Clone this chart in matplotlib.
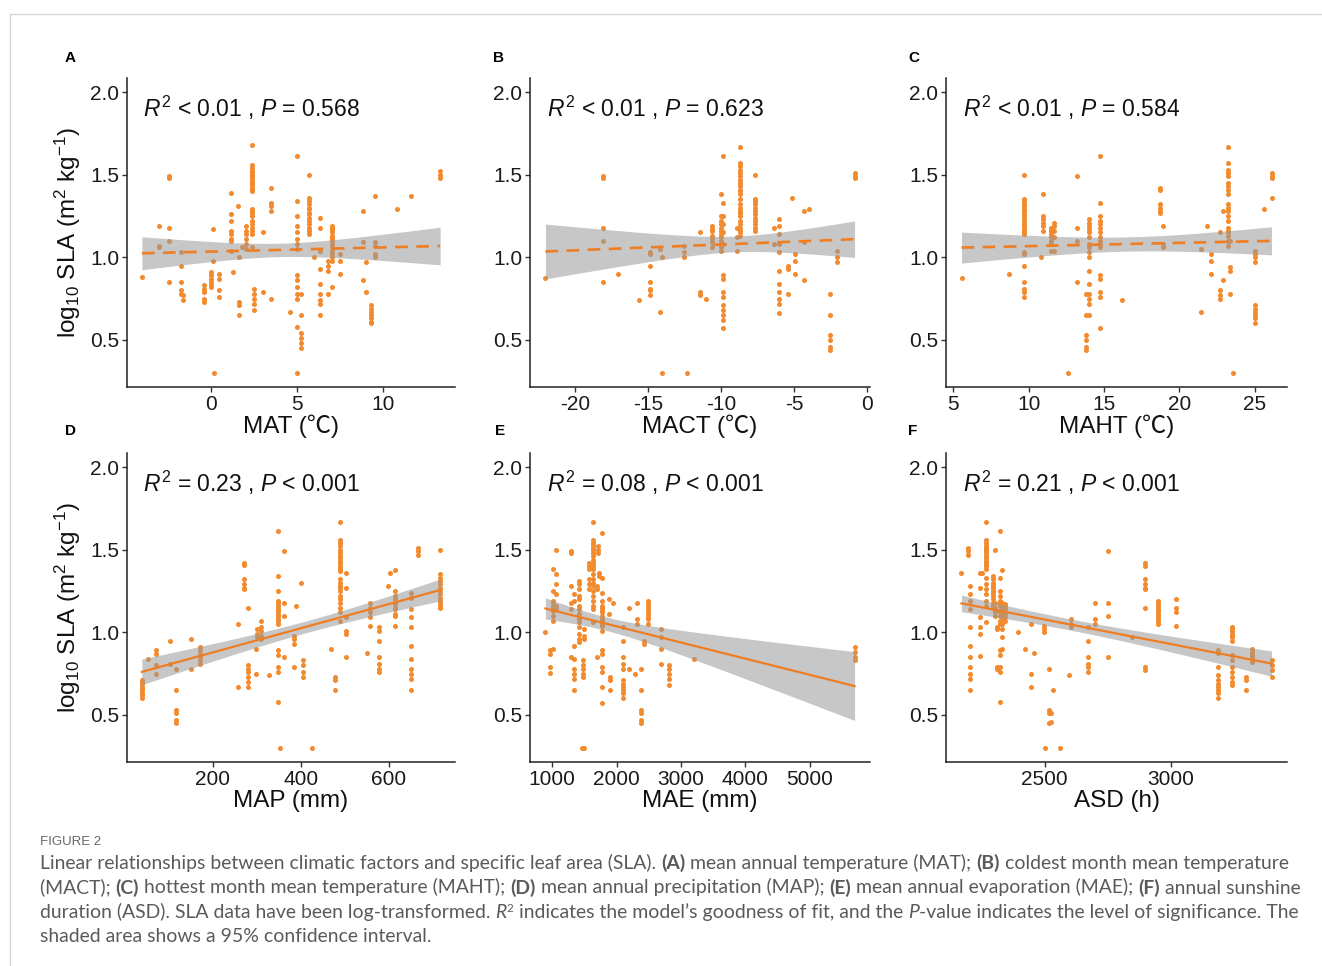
import numpy as np
import matplotlib
matplotlib.use("Agg")
import matplotlib.pyplot as plt
from matplotlib.lines import Line2D
from matplotlib.transforms import IdentityTransform

plt.rcParams['font.family'] = ['Liberation Sans', 'Noto Sans CJK SC', 'DejaVu Sans']
plt.rcParams['mathtext.fontset'] = 'custom'
plt.rcParams['mathtext.rm'] = 'Liberation Sans'
plt.rcParams['mathtext.it'] = 'Liberation Sans:italic'
plt.rcParams['mathtext.bf'] = 'Liberation Sans:bold'
plt.rcParams['axes.unicode_minus'] = False

# columns of points: (x, [log10 SLA values]); dense bars hold overlapping points
MAT_COLS = [
    (-4.0, [0.88]), (-3.03, [1.19, 1.07, 1.06]), (-2.41, [1.49, 1.48, 1.18, 1.10, 0.85]),
    (-1.73, [1.03, 0.95, 0.85, 0.80, 0.78]), (-1.63, [0.77, 0.74]),
    (-0.41, [0.83, 0.81, 0.79, 0.75, 0.73]), (0.1, [1.17, 0.98]),
    (0.0, [0.91, 0.89, 0.87, 0.85, 0.83, 0.82]), (0.16, [0.30]), (0.49, [0.90, 0.87, 0.80, 0.76]),
    (1.18, [1.39, 1.26, 1.22, 1.16, 1.14, 1.11, 1.10, 1.04]), (1.30, [0.91]), (1.59, [1.31]),
    (1.65, [0.73, 0.71, 0.65, 1.00]), (1.81, [1.06]), (2.02, [1.19, 1.16, 1.14, 1.11, 1.08, 1.05]),
    (2.39, [1.68, 1.56, 1.54, 1.52, 1.51, 1.50, 1.49, 1.48, 1.46, 1.45, 1.44,
            1.42, 1.41, 1.40, 1.29, 1.28, 1.27, 1.25, 1.22, 1.20, 1.18, 1.16, 1.14, 1.06]),
    (2.49, [0.81, 0.78, 0.75, 0.72, 0.68]), (3.01, [1.15, 0.79]), (3.48, [1.42, 1.33, 1.31, 1.28, 0.75]),
    (4.58, [0.67]),
    (4.97, [1.61, 1.34, 1.25, 1.19, 1.15, 1.11, 1.08, 1.05, 0.89, 0.86, 0.82, 0.78, 0.75, 0.58, 0.30]),
    (5.2, [0.78, 0.65, 0.54, 0.51, 0.48, 0.45]),
    (5.69, [1.50, 1.36, 1.34, 1.32, 1.30, 1.29, 1.27, 1.26, 1.24, 1.22, 1.20, 1.18, 1.16, 1.14]),
    (5.98, [1.00]), (6.31, [1.24, 1.18, 1.04, 0.93, 0.84, 0.78, 0.74, 0.72, 0.65]),
    (6.8, [0.98, 0.95, 0.92, 0.78]),
    (6.99, [1.19, 1.18, 1.17, 1.16, 1.15, 1.13, 1.12, 1.11, 1.10, 1.08, 1.06, 1.04, 1.02, 1.00, 0.98, 0.82]),
    (7.5, [1.02, 0.98, 0.90]), (8.8, [1.28, 1.09, 0.86]), (9.0, [0.97, 0.79]),
    (9.28, [0.71, 0.69, 0.67, 0.65, 0.63, 0.61, 0.60]), (9.5, [1.37, 1.09, 1.07, 1.02, 1.00]),
    (10.8, [1.29]), (11.6, [1.37]), (13.28, [1.52, 1.50, 1.48]),
]
MACT_COLS = [
    (-22.03, [0.875]), (-18.06, [1.49, 1.48, 1.18, 1.10, 0.85]), (-17.03, [0.90]), (-15.63, [0.74]),
    (-14.86, [1.03, 1.02, 0.95, 0.85, 0.81, 0.80, 0.77]), (-14.15, [1.05, 0.67]), (-14.03, [1.00, 0.30]),
    (-12.55, [1.07, 1.03, 1.00]), (-12.34, [0.30]), (-11.43, [1.15, 0.79, 0.77]), (-11.04, [0.75]),
    (-10.63, [1.19, 1.17, 1.16, 1.13, 1.11, 1.09, 1.06]),
    (-10.0, [1.38, 1.25, 1.22, 1.20, 1.18, 1.16, 1.14, 1.12, 1.10, 1.08, 1.06, 1.04]),
    (-9.83, [1.61, 1.33, 1.25, 1.20, 1.15, 1.08, 0.89, 0.87, 0.79, 0.76, 0.71, 0.68, 0.65, 0.62, 0.575]),
    (-8.91, [1.18, 1.12, 1.04]),
    (-8.73, [1.67, 1.57, 1.55, 1.53, 1.51, 1.49, 1.47, 1.45, 1.43, 1.41, 1.40, 1.38, 1.35, 1.32, 1.30,
             1.28, 1.27, 1.25, 1.22, 1.20, 1.18, 1.16, 1.15, 1.13]),
    (-7.66, [1.50, 1.35, 1.34, 1.32, 1.30, 1.28, 1.26, 1.24, 1.22, 1.20, 1.18, 1.16]), (-6.4, [1.18, 1.08]),
    (-6.03, [1.23, 1.19, 1.14, 1.08, 1.03, 0.92, 0.84, 0.79, 0.75, 0.72, 0.66]),
    (-5.42, [0.95, 0.93, 0.78]), (-5.14, [1.36]), (-4.91, [1.02, 0.98, 0.90]),
    (-4.34, [1.28, 1.09, 0.86]), (-4.0, [1.29]), (-2.51, [0.78, 0.65, 0.53, 0.50, 0.46, 0.44]),
    (-2.06, [1.04, 1.00, 0.97]), (-0.85, [1.51, 1.49, 1.48]),
]
MAHT_COLS = [
    (5.55, [0.875]), (8.67, [0.90]),
    (9.69, [1.50, 1.35, 1.34, 1.32, 1.31, 1.29, 1.28, 1.26, 1.25, 1.23, 1.22, 1.20, 1.19, 1.17, 1.16,
            1.15, 1.14, 1.03, 1.02, 0.95, 0.85, 0.81, 0.79, 0.76]),
    (10.8, [1.00]), (10.97, [1.38, 1.25, 1.23, 1.21, 1.19, 1.16]),
    (11.5, [1.18, 1.17, 1.16, 1.14, 1.13, 1.12, 1.10, 1.08, 1.04]),
    (11.68, [1.21, 1.19, 1.16, 1.12, 1.04]), (12.61, [0.30]), (13.19, [1.49, 1.18, 1.10, 0.85]),
    (13.78, [0.78, 0.65, 0.53, 0.50, 0.46, 0.44]),
    (14.0, [1.23, 1.21, 1.19, 1.17, 1.15, 1.12, 1.08, 1.06, 1.03, 1.00, 0.92, 0.84, 0.78, 0.75, 0.72, 0.65]),
    (14.71, [1.61, 1.33, 1.25, 1.22, 1.20, 1.18, 1.15, 1.12, 1.10, 1.08, 1.06, 0.89, 0.87, 0.79, 0.76, 0.575]),
    (16.2, [0.74]), (18.72, [1.42, 1.41, 1.32, 1.30, 1.28, 1.27]), (18.9, [1.19, 1.08, 1.06]),
    (21.4, [1.05, 0.67]), (21.8, [1.19]), (22.08, [1.02, 0.98, 0.90]), (22.7, [1.15, 0.80, 0.77, 0.75]),
    (22.9, [1.28, 0.86]),
    (23.19, [1.67, 1.57, 1.53, 1.51, 1.49, 1.45, 1.43, 1.41, 1.38, 1.32, 1.30,
             1.28, 1.25, 1.22, 1.18, 1.16, 1.15, 1.13, 1.10, 1.07]),
    (23.36, [1.10, 0.94, 0.92, 0.78]), (23.52, [0.30]),
    (25.0, [1.04, 1.02, 1.00, 0.97, 0.71, 0.69, 0.67, 0.65, 0.63, 0.60]),
    (25.58, [1.29]), (26.1, [1.51, 1.49, 1.48, 1.36]),
]
MAP_COLS = [
    (38.5, [0.71, 0.70, 0.69, 0.67, 0.66, 0.65, 0.63, 0.62, 0.60]), (52, [0.84]), (70, [0.89, 0.87, 0.80, 0.75]),
    (102, [0.95, 0.81]), (115, [0.78, 0.65, 0.53, 0.51, 0.47, 0.45]), (151, [0.96, 0.78]),
    (170, [0.91, 0.89, 0.87, 0.85, 0.83, 0.81]), (256, [1.05, 0.67]),
    (271, [1.42, 1.41, 1.32, 1.29, 1.27, 1.26]), (280, [1.15, 0.80, 0.78, 0.76, 0.73, 0.70, 0.67]),
    (298, [0.90, 0.75]), (301, [1.02, 0.99, 0.97]), (309, [1.07, 1.03, 1.01, 0.98, 0.96]), (328, [0.74]),
    (349, [1.61, 1.34, 1.25, 1.19, 1.18, 1.16, 1.14, 1.13, 1.11, 1.10, 1.08, 1.07, 1.05, 0.89, 0.86,
           0.79, 0.76, 0.58]),
    (353, [0.30]), (361, [1.18, 1.10, 0.85]), (362, [1.49]), (385, [0.98, 0.96, 0.93, 0.79]),
    (389, [1.16]), (400, [1.30]), (404, [0.83, 0.80, 0.76, 0.73]), (425, [0.30]), (469, [0.90]),
    (478, [0.73, 0.71, 0.65]),
    (489.5, [1.67, 1.56, 1.54, 1.52, 1.50, 1.48, 1.46, 1.45, 1.43, 1.42, 1.40, 1.38, 1.37, 1.32, 1.30,
             1.28, 1.27, 1.25, 1.22, 1.20, 1.18, 1.15, 1.12, 1.07]),
    (503, [1.36, 1.27, 1.09, 1.01, 0.99, 0.85]), (550, [0.875]), (557, [1.18, 1.15, 1.12, 1.09, 1.04]),
    (578, [1.03, 1.01, 0.95, 0.85, 0.81, 0.78, 0.76]), (599, [1.28]), (602, [1.36]),
    (614, [1.375, 1.25, 1.22, 1.20, 1.18, 1.17, 1.15, 1.14, 1.11, 1.10, 1.04]),
    (650, [1.24, 1.21, 1.14, 1.09, 1.03, 0.92, 0.84, 0.78, 0.75, 0.72, 0.65]),
    (665.5, [1.51, 1.49, 1.47]),
    (716.6, [1.50, 1.35, 1.33, 1.31, 1.29, 1.27, 1.25, 1.23, 1.21, 1.19, 1.18, 1.16, 1.15]),
]
MAE_COLS = [
    (896, [1.00]), (969, [0.89, 0.87, 0.79, 0.755]),
    (1021, [1.38, 1.25, 1.19, 1.18, 1.16, 1.14, 1.13, 1.10, 1.07, 0.90]),
    (1062, [1.50, 1.35, 1.29, 1.23, 1.16, 1.14]), (1290, [1.49, 1.48, 1.28, 1.18, 1.14, 0.85]),
    (1332, [1.23, 1.19, 0.92, 0.84, 0.78, 0.75, 0.72, 0.65]),
    (1425, [1.31, 1.29, 1.26, 1.22, 1.20, 1.16, 1.14, 1.11, 1.08, 1.06, 1.03, 0.99, 0.96, 0.94]),
    (1461, [0.30]), (1497, [0.30, 1.02, 0.98, 0.96]), (1487, [0.83, 0.80, 0.78, 0.75, 0.73]),
    (1565, [1.42, 1.40, 1.38, 1.32, 1.29, 1.26]),
    (1632, [1.67, 1.56, 1.54, 1.53, 1.51, 1.50, 1.48, 1.46, 1.44, 1.42, 1.40, 1.38, 1.35, 1.32, 1.30,
            1.28, 1.25, 1.22, 1.19, 1.16, 1.14, 1.06]),
    (1694, [1.28, 1.26, 0.85]), (1710, [1.52, 1.50, 1.48]), (1735, [1.36, 1.34]),
    (1782, [1.60, 1.33, 1.24, 1.19, 1.16, 1.15, 1.13, 1.12, 1.10, 1.08, 1.07, 1.05, 1.04, 1.01, 0.89,
            0.87, 0.79, 0.76, 0.67, 0.57]),
    (1881, [1.20, 1.11]), (1900, [0.73, 0.71, 0.65]), (1943, [1.18]),
    (2098, [1.03, 0.95, 0.85, 0.81, 0.78, 0.71, 0.69, 0.67, 0.65, 0.63, 0.60]), (2192, [1.15, 0.78]),
    (2295, [0.745]), (2316, [1.18, 1.08, 1.05]), (2383, [0.78, 0.65, 0.53, 0.51, 0.47, 0.45]),
    (2420, [0.95, 0.93]), (2497, [1.19, 1.17, 1.16, 1.14, 1.12, 1.11, 1.09, 1.08, 1.05]),
    (2689, [1.02, 0.97, 0.90, 0.81]),
    (2819, [0.80, 0.78, 0.75, 0.72, 0.68]), (3197, [0.84]), (5699, [0.91, 0.88, 0.85, 0.83]),
]
ASD_COLS = [
    (2170, [1.36]), (2197, [1.51, 1.49, 1.47]),
    (2202, [1.28, 1.23, 1.19, 1.14, 1.03, 0.92, 0.85, 0.79, 0.75, 0.72, 0.65]),
    (2243, [1.36, 1.27, 1.09, 1.03, 0.99, 0.855]), (2252, [1.36]),
    (2269, [1.67, 1.56, 1.54, 1.52, 1.51, 1.50, 1.49, 1.48, 1.46, 1.45, 1.43, 1.42, 1.41, 1.40, 1.38,
            1.33, 1.29, 1.26, 1.23, 1.19, 1.16, 1.06]),
    (2296, [1.34, 1.32, 1.30, 1.29, 1.28, 1.27, 1.25, 1.24, 1.22, 1.20, 1.18, 1.16, 1.15]),
    (2302, [1.50, 1.18, 1.15, 1.12, 1.10]),
    (2309, [1.03, 1.02, 0.79, 0.78]),
    (2322, [1.61, 1.33, 1.25, 1.22, 1.19, 1.18, 1.16, 1.13, 1.12, 1.10, 1.07, 1.05, 0.89, 0.86, 0.79,
            0.76, 0.58]),
    (2329, [1.375]), (2331, [1.18, 1.17, 1.15, 1.13, 1.11, 1.10, 1.08, 1.05, 1.02, 0.97, 0.90]),
    (2344, [1.17, 1.16, 1.14, 1.12, 1.11, 1.09, 1.07]),
    (2393, [1.00]), (2421, [0.90]), (2447, [1.05, 0.75, 0.67]), (2456, [0.875]), (2496, [1.04, 1.02, 1.00]),
    (2500, [0.30]), (2516, [0.78, 0.53, 0.51, 0.45]), (2525, [0.46, 0.51]), (2532, [0.65]), (2562, [0.30]),
    (2596, [0.74]), (2606, [1.08, 1.05, 1.03]), (2670, [1.03, 0.95, 0.85, 0.81, 0.79, 0.76]),
    (2699, [1.18, 1.08, 1.05]), (2749, [1.49, 1.18, 1.10, 0.85]), (2847, [0.97]),
    (2898, [1.42, 1.40, 1.32, 1.29, 1.27, 1.26, 1.15, 0.79, 0.77]),
    (2948, [1.19, 1.18, 1.16, 1.14, 1.13, 1.11, 1.10, 1.08, 1.07, 1.05]), (3020, [1.20, 1.15, 1.12, 1.04]),
    (3185, [0.89, 0.875, 0.79, 0.74, 0.71, 0.69, 0.67, 0.65, 0.63, 0.60]),
    (3244, [1.03, 1.02, 1.01, 0.99, 0.98, 0.97, 0.95, 0.86, 0.83, 0.79, 0.76, 0.73, 0.70, 0.68]),
    (3297, [0.73, 0.71, 0.65]), (3320, [0.90, 0.88, 0.87, 0.86, 0.85, 0.84, 0.82]),
    (3399, [0.83, 0.80, 0.77, 0.73]),
]

PANEL_COLS = [MAT_COLS, MACT_COLS, MAHT_COLS, MAP_COLS, MAE_COLS, ASD_COLS]
LETTERS = ['A', 'B', 'C', 'D', 'E', 'F']
XLABELS = ['MAT (℃)', 'MACT (℃)', 'MAHT (℃)', 'MAP (mm)', 'MAE (mm)', 'ASD (h)']
XTICKS = [[0, 5, 10], [-20, -15, -10, -5, 0], [5, 10, 15, 20, 25],
          [200, 400, 600], [1000, 2000, 3000, 4000, 5000], [2500, 3000]]
STATS = [r'$\mathit{R}^{2}$ < 0.01 , $\mathit{P}$ = 0.568',
         r'$\mathit{R}^{2}$ < 0.01 , $\mathit{P}$ = 0.623',
         r'$\mathit{R}^{2}$ < 0.01 , $\mathit{P}$ = 0.584',
         r'$\mathit{R}^{2}$ = 0.23 , $\mathit{P}$ < 0.001',
         r'$\mathit{R}^{2}$ = 0.08 , $\mathit{P}$ < 0.001',
         r'$\mathit{R}^{2}$ = 0.21 , $\mathit{P}$ < 0.001']
SIGNIFICANT = [False, False, False, True, True, True]

PT = '#f28a2e'
LN = '#ef7d22'
W, H = 1322, 966

fig = plt.figure(figsize=(W / 100, H / 100), dpi=100)

# panel boxes in pixels: left, right, top, bottom
cols_px = [(127, 455), (530, 870), (946, 1287)]
rows_px = [(78, 387), (453, 762)]
letter_px = [(65, 62), (493, 62), (908, 62), (65, 435), (495, 435), (908, 435)]

for i, cols in enumerate(PANEL_COLS):
    x = np.concatenate([[cx] * len(ys) for cx, ys in cols]).astype(float)
    y = np.concatenate([ys for cx, ys in cols]).astype(float)
    l, r = cols_px[i % 3]
    t, b = rows_px[i // 3]
    ax = fig.add_axes([l / W, 1 - b / H, (r - l) / W, (b - t) / H])

    ax.scatter(x, y, s=13, color=PT, linewidths=0, zorder=2)

    # ordinary least squares with 95% confidence band
    slope, icpt = np.polyfit(x, y, 1)
    n = len(x)
    resid = y - (icpt + slope * x)
    s = np.sqrt(np.sum(resid ** 2) / (n - 2))
    xs = np.linspace(x.min(), x.max(), 200)
    fit = icpt + slope * xs
    se = s * np.sqrt(1 / n + (xs - x.mean()) ** 2 / np.sum((x - x.mean()) ** 2))
    ax.fill_between(xs, fit - 1.97 * se, fit + 1.97 * se, color='#999999', alpha=0.55,
                    linewidth=0, zorder=3)
    if SIGNIFICANT[i]:
        ax.plot(xs, fit, color=LN, lw=1.6, zorder=4)
    else:
        ax.plot(xs, fit, color=LN, lw=1.9, dashes=(4.8, 3.2), zorder=4)

    ax.set_ylim(0.215, 2.085)
    ax.set_yticks([0.5, 1.0, 1.5, 2.0])
    ax.set_yticklabels(['0.5', '1.0', '1.5', '2.0'])
    ax.set_xticks(XTICKS[i])
    ax.set_xticklabels([str(v) for v in XTICKS[i]])
    for sp in ['top', 'right']:
        ax.spines[sp].set_visible(False)
    for sp in ['left', 'bottom']:
        ax.spines[sp].set_linewidth(1.1)
        ax.spines[sp].set_color('#222222')
    ax.tick_params(length=3.5, width=1.0, color='#333333', labelsize=15, labelcolor='#1a1a1a', pad=2)
    ax.set_xlabel(XLABELS[i], fontsize=17.5, labelpad=1, color='#111111')
    if i % 3 == 0:
        ax.set_ylabel(r'log$_{10}$ SLA (m$^{2}$ kg$^{-1}$)', fontsize=17.5, labelpad=5, color='#111111')
    ax.text(0.049, 0.874, STATS[i], transform=ax.transAxes, fontsize=16.5, color='#111111',
            va='baseline', ha='left')
    lx, ly = letter_px[i]
    fig.text(lx, H - ly, LETTERS[i], transform=IdentityTransform(), fontsize=11, fontweight='bold',
             va='baseline', ha='left')

# thin page frame
fig.add_artist(Line2D([10 / W, 10 / W], [0, 1 - 14 / H], color='#d6d6d6', lw=1.0,
                      transform=fig.transFigure))
fig.add_artist(Line2D([10 / W, 1], [1 - 14 / H, 1 - 14 / H], color='#d6d6d6', lw=1.0,
                      transform=fig.transFigure))

# caption
CAP_FONT = ['Lato', 'Liberation Sans', 'DejaVu Sans']
CAP_COLOR = '#5a5a5a'
renderer = fig.canvas.get_renderer()

B = {'weight': 'bold'}
N = {}
I = {'style': 'italic'}
SUP = {'scale': 0.6, 'dy': 6}

CAPTION = [
    (869, [('Linear relationships between climatic factors and specific leaf area (SLA). ', N), ('(A)', B),
           (' mean annual temperature (MAT); ', N), ('(B)', B), (' coldest month mean temperature', N)]),
    (893.5, [('(MACT); ', N), ('(C)', B), (' hottest month mean temperature (MAHT); ', N), ('(D)', B),
             (' mean annual precipitation (MAP); ', N), ('(E)', B), (' mean annual evaporation (MAE); ', N),
             ('(F)', B), (' annual sunshine', N)]),
    (918, [('duration (ASD). SLA data have been log-transformed. ', N), ('R', I), ('2', SUP),
           (' indicates the model\u2019s goodness of fit, and the ', N), ('P', I),
           ('-value indicates the level of significance. The', N)]),
    (942.5, [('shaded area shows a 95% confidence interval.', N)]),
]


def draw_runs(x, y, runs, size, keep=True):
    x0 = x
    for txt, kw in runs:
        tt = fig.text(x, H - y + kw.get('dy', 0), txt, transform=IdentityTransform(),
                      fontsize=size * kw.get('scale', 1.0), fontweight=kw.get('weight', 'normal'),
                      fontstyle=kw.get('style', 'normal'), color=CAP_COLOR, family=CAP_FONT,
                      va='baseline', ha='left')
        x += tt.get_window_extent(renderer).width
        if not keep:
            tt.remove()
    return x - x0


# size chosen so the first line spans the same width as in the reference
cap_size = 12 * 1247 / draw_runs(40, 869, CAPTION[0][1], 12, keep=False)

fig.text(40, H - 845, 'FIGURE 2', transform=IdentityTransform(), fontsize=9.5, color='#666666',
         family=['Liberation Sans'], va='baseline', ha='left')
for yy, runs in CAPTION:
    draw_runs(40, yy, runs, cap_size)

fig.savefig('out.png', dpi=100)
